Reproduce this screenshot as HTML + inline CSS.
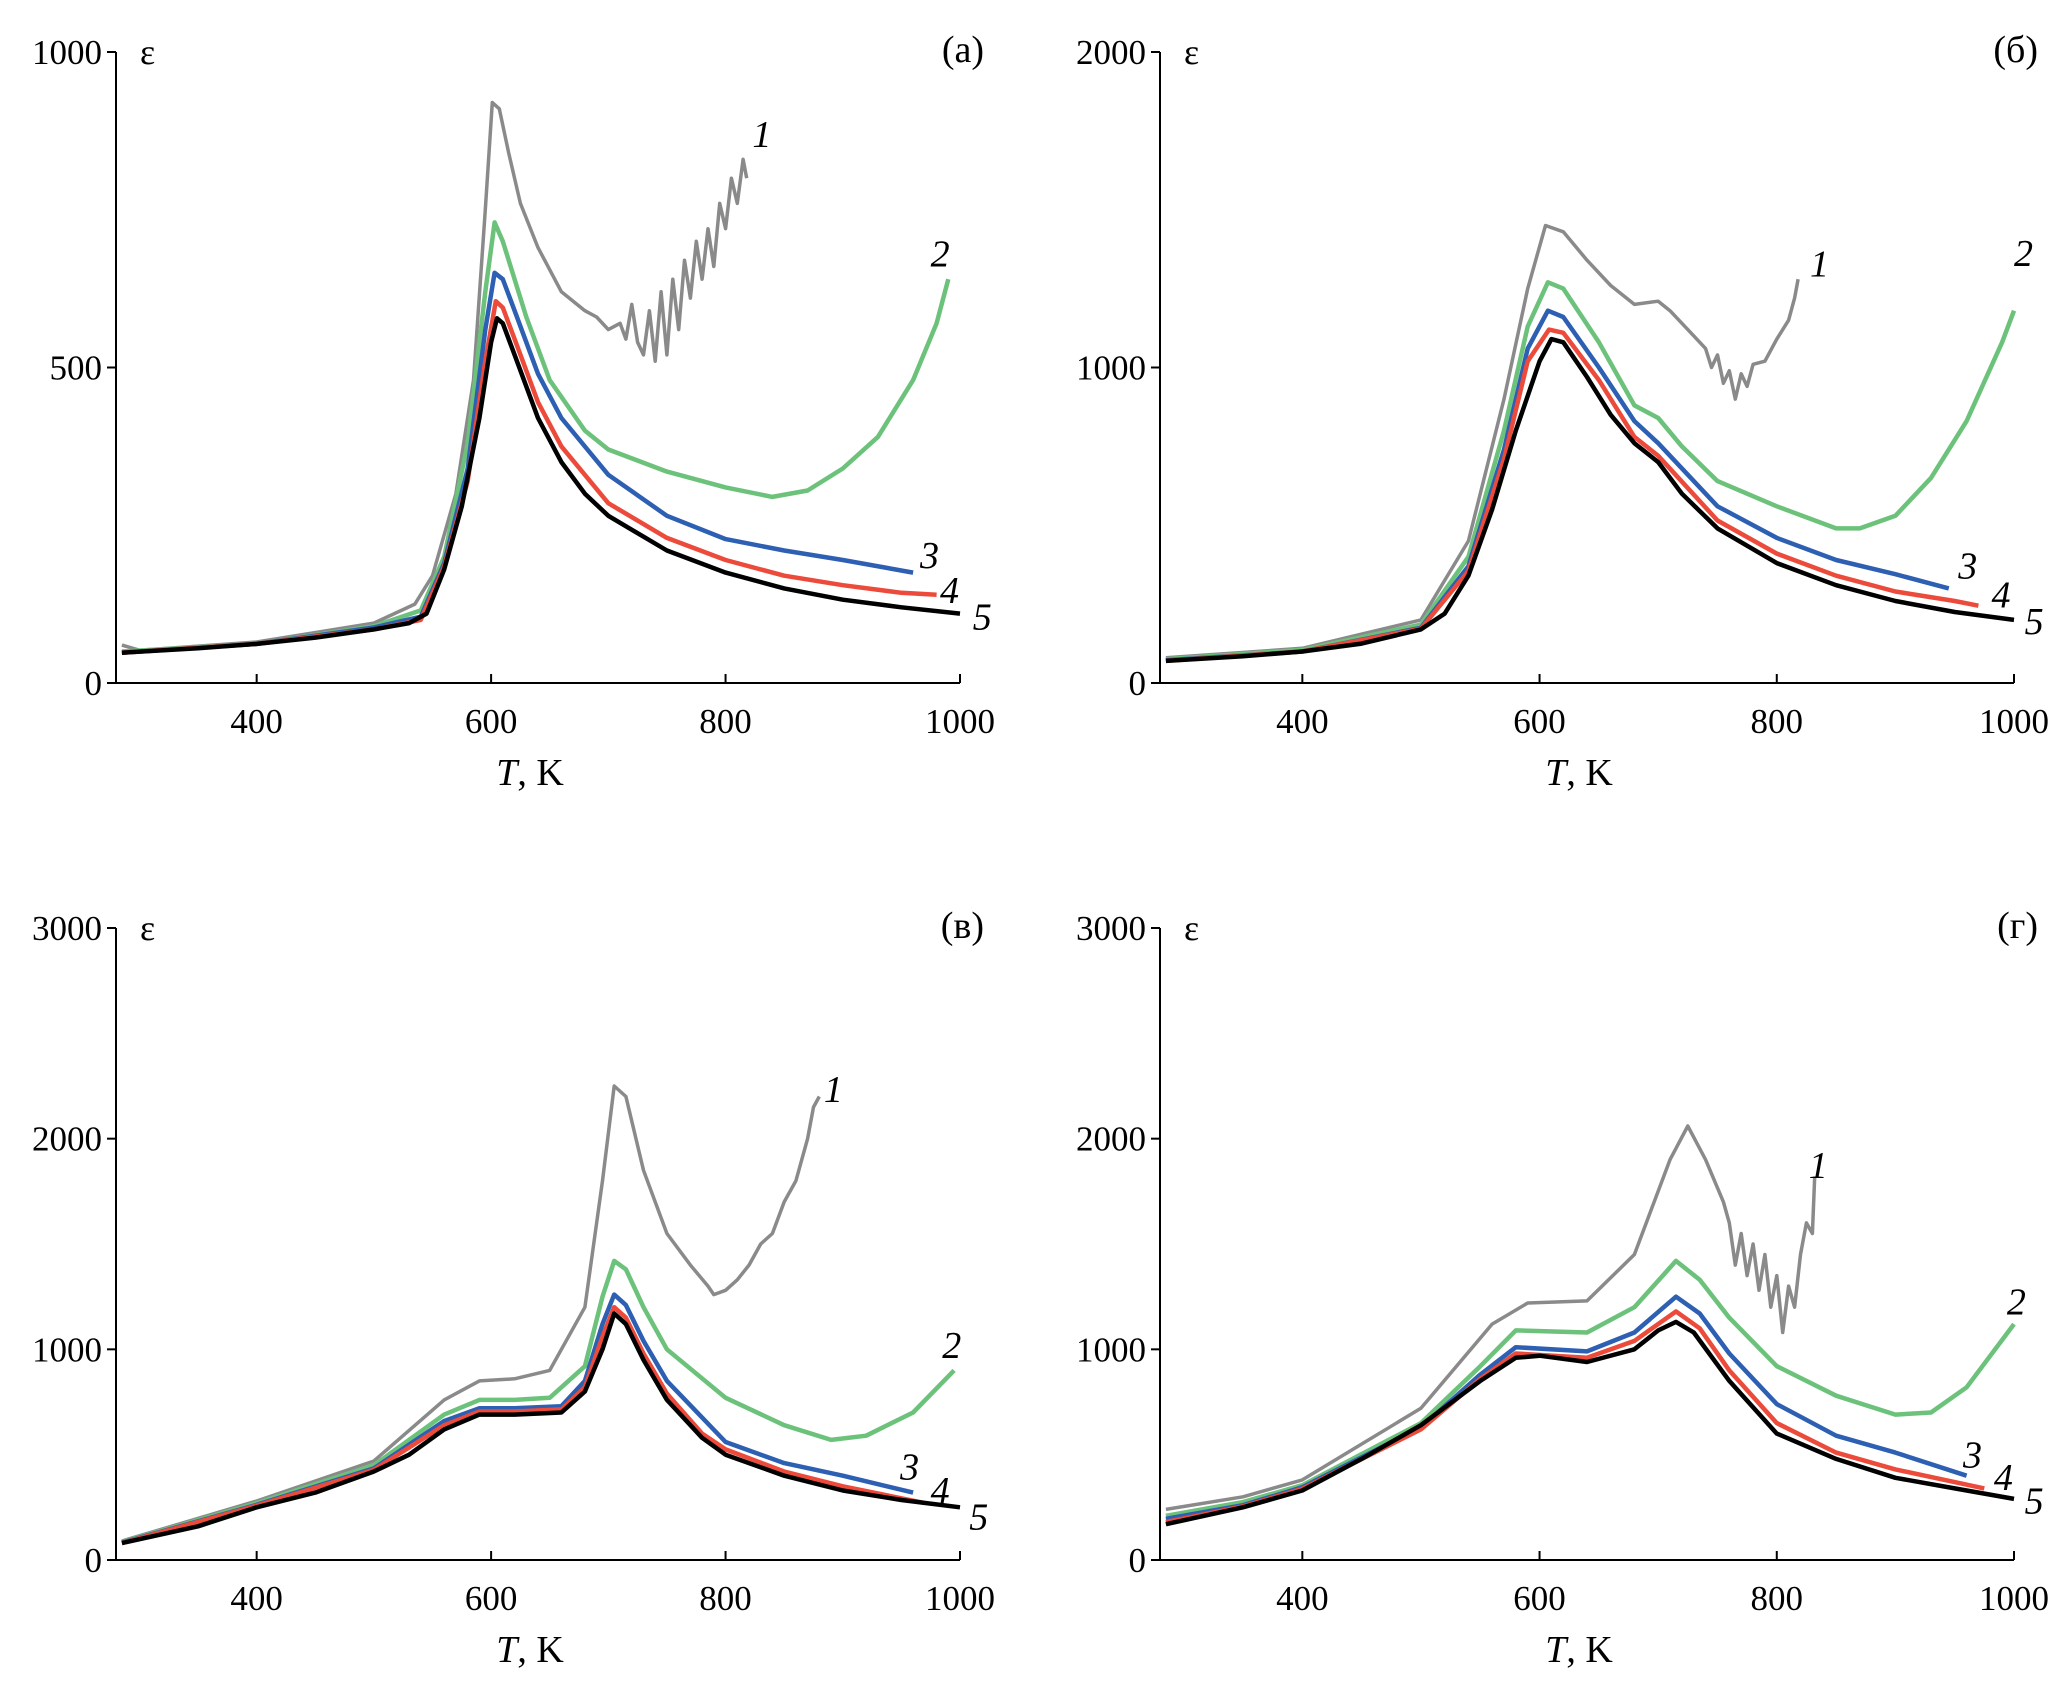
<!DOCTYPE html>
<html><head><meta charset="utf-8"><style>
html,body{margin:0;padding:0;background:#fff}
svg{display:block}
text{font-family:"Liberation Serif",serif;fill:#000}
</style></head><body>
<svg id="fig" width="2067" height="1683" viewBox="0 0 2067 1683" xmlns="http://www.w3.org/2000/svg"></svg>
<script>
// ---- data ----
const xTicks=[400,600,800,1000];
const panelNames=["(a)","(б)","(в)","(г)"];
const panelYMax=[1000,2000,3000,3000];
const panelYTicks=[[0,500,1000],[0,1000,2000],[0,1000,2000,3000],[0,1000,2000,3000]];
const seriesNames=["1","2","3","4","5"];
const seriesColors=["#8a8a8a","#6cc27a","#2d5fb2","#ec4a3a","#000000"];
// panel a: [T, eps] pairs
const a1=[[285,60],[300,52],[400,65],[500,95],[535,125],[550,170],[570,300],[585,480],[595,750],[601,920],[607,910],[615,840],[625,760],[640,690],[660,620],[680,590],[690,580],[700,560],[710,570],[715,545],[720,600],[725,540],[730,520],[735,590],[740,510],[745,620],[750,520],[755,640],[760,560],[765,670],[770,610],[775,700],[780,640],[785,720],[790,660],[795,760],[800,720],[805,800],[810,760],[815,830],[818,800]];
const a2=[[285,50],[400,62],[500,90],[540,115],[560,200],[580,380],[595,620],[603,730],[610,700],[630,580],[650,480],[680,400],[700,370],[750,335],[800,310],[840,295],[870,305],[900,340],[930,390],[960,480],[980,570],[990,640]];
const a3=[[285,48],[400,62],[500,88],[540,105],[560,190],[580,340],[595,560],[603,650],[610,640],[620,590],[640,490],[660,420],[700,330],[750,265],[800,228],[850,210],[900,195],[960,175]];
const a4=[[285,48],[400,62],[500,85],[540,100],[560,185],[580,320],[595,510],[604,605],[610,595],[620,545],[640,445],[660,375],[700,285],[750,230],[800,195],[850,170],[900,155],[950,143],[980,140]];
const a5=[[285,48],[350,55],[400,62],[450,72],[500,85],[530,95],[545,110],[560,180],[575,280],[590,420],[600,540],[605,578],[610,570],[620,520],[640,420],[660,350],[680,300],[700,265],[750,210],[800,175],[850,150],[900,132],[950,120],[1000,110]];
// panel б
const b1=[[285,80],[400,110],[500,200],[540,450],[570,900],[590,1250],[605,1450],[620,1430],[640,1340],[660,1260],[680,1200],[700,1210],[710,1180],[720,1140],[730,1100],[740,1060],[745,1000],[750,1040],[755,950],[760,990],[765,900],[770,980],[775,940],[780,1010],[790,1020],[800,1090],[810,1150],[815,1220],[818,1280]];
const b2=[[285,75],[400,105],[500,185],[540,400],[570,800],[590,1130],[607,1270],[620,1250],[650,1080],[680,880],[700,840],[720,750],[750,640],[800,560],[850,490],[870,490],[900,530],[930,650],[960,830],[990,1080],[1000,1180]];
const b3=[[285,72],[400,100],[500,175],[540,370],[570,740],[590,1060],[607,1180],[620,1160],[650,1000],[680,830],[700,760],[750,560],[800,460],[850,390],[900,345],[945,300]];
const b4=[[285,70],[400,100],[500,172],[540,355],[570,710],[590,1020],[608,1120],[620,1110],[650,960],[680,780],[700,720],[750,515],[800,410],[850,340],[900,290],[950,260],[970,245]];
const b5=[[285,70],[350,85],[400,100],[450,125],[500,170],[520,220],[540,340],[560,550],[580,800],[600,1020],[610,1090],[620,1080],[640,970],[660,850],[680,760],[700,700],[720,600],[750,490],[800,380],[850,310],[900,260],[950,225],[1000,200]];
// panel в
const c1=[[285,90],[400,280],[500,470],[560,760],[590,850],[620,860],[650,900],[680,1200],[695,1800],[705,2250],[715,2200],[730,1850],[750,1550],[770,1400],[785,1300],[790,1260],[800,1280],[810,1330],[820,1400],[830,1500],[840,1550],[850,1700],[860,1800],[870,2000],[875,2150],[880,2200]];
const c2=[[285,85],[400,270],[500,450],[560,690],[590,760],[620,760],[650,770],[680,920],[695,1250],[705,1420],[715,1380],[730,1200],[750,1000],[800,770],[850,640],[890,570],[920,590],[960,700],[995,900]];
const c3=[[285,82],[400,262],[500,435],[560,660],[590,720],[620,720],[660,730],[680,850],[695,1120],[705,1260],[715,1210],[730,1040],[750,850],[800,560],[850,460],[900,400],[960,320]];
const c4=[[285,80],[400,258],[500,428],[560,640],[590,705],[620,705],[660,715],[680,820],[695,1060],[705,1200],[715,1150],[730,980],[750,790],[780,600],[800,525],[850,420],[900,350],[970,270]];
const c5=[[285,80],[350,160],[400,250],[450,320],[500,420],[530,500],[560,620],[590,690],[620,690],[660,700],[680,800],[695,1000],[705,1170],[715,1120],[730,950],[750,760],[780,580],[800,500],[850,400],[900,330],[950,285],[1000,250]];
// panel г
const d1=[[285,240],[350,300],[400,380],[500,720],[560,1120],[590,1220],[640,1230],[680,1450],[710,1900],[725,2060],[740,1900],[755,1700],[760,1600],[765,1400],[770,1550],[775,1350],[780,1500],[785,1280],[790,1450],[795,1200],[800,1350],[805,1080],[810,1300],[815,1200],[820,1450],[825,1600],[830,1550],[832,1820]];
const d2=[[285,210],[350,275],[400,355],[500,650],[550,920],[580,1090],[640,1080],[680,1200],[715,1420],[735,1330],[760,1150],[800,920],[850,780],[900,690],[930,700],[960,820],[1000,1120]];
const d3=[[285,195],[350,260],[400,345],[500,630],[550,880],[580,1010],[640,990],[680,1080],[715,1250],[735,1170],[760,980],[800,740],[850,590],[900,510],[960,400]];
const d4=[[285,180],[350,255],[400,338],[500,620],[550,860],[580,980],[640,960],[680,1040],[715,1180],[735,1100],[760,900],[800,650],[850,510],[900,430],[975,340]];
const d5=[[285,170],[350,250],[400,330],[450,480],[500,640],[550,850],[580,960],[600,970],[640,940],[680,1000],[700,1090],[715,1130],[730,1080],[760,850],[800,600],[850,480],[900,390],[950,340],[1000,290]];
const panelSeries=[[a1,a2,a3,a4,a5],[b1,b2,b3,b4,b5],[c1,c2,c3,c4,c5],[d1,d2,d3,d4,d5]];
// label anchors [T, eps] per panel per series (label centre)
const labelPos=[
 [[831,870],[983,681],[974,203],[991,147],[1019,105]],
 [[836,1329],[1008,1363],[961,373],[989,281],[1017,197]],
 [[892,2236],[993,1021],[957,445],[983,332],[1016,207]],
 [[835,1876],[1002,1228],[965,501],[991,395],[1017,282]]
];
// ---- layout ----
const frames=[
 {x0:116,x1:960,y0:683,y1:52},
 {x0:1160,x1:2014,y0:683,y1:52},
 {x0:116,x1:960,y0:1560,y1:928},
 {x0:1160,x1:2014,y0:1560,y1:928}
];
const NS="http://www.w3.org/2000/svg";
const svg=document.getElementById('fig');
function mk(tag,attrs,parent){const e=document.createElementNS(NS,tag);for(const k in attrs)e.setAttribute(k,attrs[k]);(parent||svg).appendChild(e);return e;}
frames.forEach((f,p)=>{
  const g=mk('g',{});
  
  
  const ymax=panelYMax[p];
  const X=t=>f.x0+(t-280)/(1000-280)*(f.x1-f.x0);
  const Y=v=>f.y0-v/ymax*(f.y0-f.y1);
  const ax=mk('path',{d:`M${f.x0},${f.y1} V${f.y0} H${f.x1}`,fill:'none',stroke:'#000','stroke-width':2},g);
  
  
  xTicks.forEach(t=>{
    const tk=mk('line',{x1:X(t),x2:X(t),y1:f.y0,y2:f.y0-9,stroke:'#000','stroke-width':2},g);
    
    
    const tl=mk('text',{x:X(t),y:f.y0+50,'font-size':35,'text-anchor':'middle'},g);
    tl.textContent=t;
    
    
  });
  panelYTicks[p].forEach(v=>{
    const tk=mk('line',{x1:f.x0-9,x2:f.x0,y1:Y(v),y2:Y(v),stroke:'#000','stroke-width':2},g);
    
    
    const tl=mk('text',{x:f.x0-14,y:Y(v)+12,'font-size':35,'text-anchor':'end'},g);
    tl.textContent=v;
    
    
  });
  const yt=mk('text',{x:f.x0+24,y:f.y1+12,'font-size':36},g);
  yt.textContent='ε';
  
  
  const xt=mk('text',{x:(f.x0+f.x1)/2-8,y:f.y0+102,'font-size':38,'text-anchor':'middle'},g);
  xt.innerHTML='<tspan font-style="italic">T</tspan>, K';
  
  
  const pl=mk('text',{x:f.x1+24,y:f.y1+10,'font-size':38,'text-anchor':'end'},g);
  pl.textContent=panelNames[p];
  
  
  panelSeries[p].forEach((s,i)=>{
    const d=s.map((pt,j)=>(j?'L':'M')+X(pt[0]).toFixed(1)+','+Y(pt[1]).toFixed(1)).join(' ');
    const ln=mk('path',{d:d,fill:'none',stroke:seriesColors[i],'stroke-width':i===0?3.5:4.5,'stroke-linejoin':'round'},g);
    
    
    const lp=labelPos[p][i];
    const lb=mk('text',{x:X(lp[0]),y:Y(lp[1])+13,'font-size':38,'font-style':'italic','text-anchor':'middle'},g);
    lb.textContent=seriesNames[i];
    
    
  });
});
</script>
</body></html>
